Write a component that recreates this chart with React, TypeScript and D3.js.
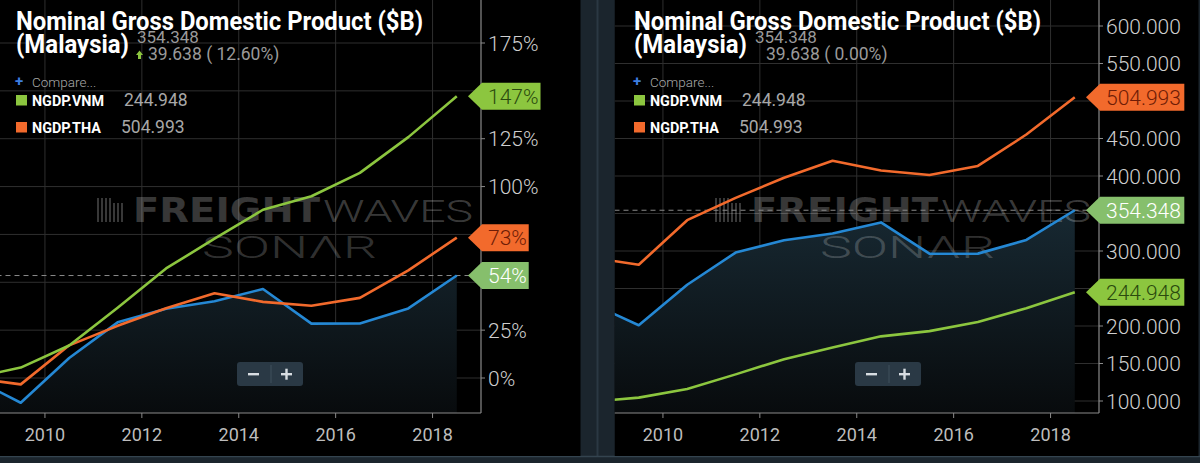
import React from "react";
import * as d3 from "d3";

// annual nominal GDP, $B (plotted at mid-year)
const years = [2008, 2009, 2010, 2011, 2012, 2013, 2014, 2015, 2016, 2017, 2018];
const ngdpMYS = [230.8, 201.0, 255.0, 297.9, 314.4, 323.3, 338.1, 296.4, 296.5, 314.71, 354.348];
const ngdpVNM = [99.1, 104.5, 115.9, 135.5, 155.8, 171.2, 186.2, 193.2, 205.3, 223.8, 244.948];
const ngdpTHA = [291.4, 281.7, 341.1, 370.8, 397.6, 420.3, 407.3, 401.3, 413.4, 455.3, 504.993];

const pctTicks = [0, 0.25, 0.5, 0.75, 1, 1.25, 1.5, 1.75];
const absTicks = [100, 150, 200, 250, 300, 350, 400, 450, 500, 550, 600];
const yearTicks = [2010, 2012, 2014, 2016, 2018];

const W = 1200;
const H = 463;
const GREEN = "#8cc63f";
const ORANGE = "#f26a2c";
const BLUE = "#2588d4";
const PALE = "#86bf6c";
const FONT = "Roboto, 'Noto Sans', sans-serif";

// rough text width for Roboto Light digits
const textW = (s: string, fs: number) =>
  s.split("").reduce((a, c) => a + (c === "." ? 0.263 : c === "%" ? 0.72 : 0.562) * fs, 0);

type PanelProps = { dx: number; mode: "pct" | "abs"; id: string };

const Panel: React.FC<PanelProps> = ({ dx, mode, id }) => {
  const x = d3.scaleLinear().domain([2009, 2019]).range([-3.5, 481]);
  const y =
    mode === "pct"
      ? d3.scaleLinear().domain([0, 1.75]).range([378, 43])
      : d3.scaleLinear().domain([100, 600]).range([401, 26]);
  const bottom = 413;
  const axisX = x(2019);
  const left = x(2009);

  const toVal = (arr: number[]) => arr.map((v) => (mode === "pct" ? v / arr[0] - 1 : v));
  const series = [
    { key: "MYS", vals: toVal(ngdpMYS), color: BLUE, tagFill: PALE, tagText: "#ffffff" },
    { key: "THA", vals: toVal(ngdpTHA), color: ORANGE, tagFill: ORANGE, tagText: "#6e1c06" },
    { key: "VNM", vals: toVal(ngdpVNM), color: GREEN, tagFill: GREEN, tagText: "#2a4a0e" },
  ];

  const xi = (i: number) => x(years[i] + 0.5);
  const line = d3.line<number>().x((_, i) => xi(i)).y((v) => y(v));
  const area = d3.area<number>().x((_, i) => xi(i)).y0(bottom).y1((v) => y(v));

  const ticks = mode === "pct" ? pctTicks : absTicks;
  const fmt = (v: number) => (mode === "pct" ? `${Math.round(v * 100)}%` : v.toFixed(3));

  const last = ngdpMYS.length - 1;
  const change = ngdpMYS[last] - ngdpMYS[last - 1];
  const changePct = mode === "pct" ? (change / ngdpMYS[last - 1]) * 100 : 0;
  const blueLastY = y(series[0].vals[last]);

  // tick labels sitting under a value tag are hidden, as in the app
  const tagYs = series.map((s) => y(s.vals[last]));
  const labelTicks = ticks.filter((t) => tagYs.every((ty) => Math.abs(ty - y(t)) > 16));

  return (
    <g transform={`translate(${dx},0)`}>
      <defs>
        <clipPath id={`panel-${id}`}>
          <rect x={-3.5} y={0} width={586.5} height={456} />
        </clipPath>
        <clipPath id={`plot-${id}`}>
          <rect x={left} y={0} width={axisX - left} height={bottom} />
        </clipPath>
        <linearGradient id={`fill-${id}`} gradientUnits="userSpaceOnUse" x1={0} y1={200} x2={0} y2={bottom}>
          <stop offset="0" stopColor="#182a34" />
          <stop offset="1" stopColor="#080b0d" />
        </linearGradient>
      </defs>
      <g clipPath={`url(#panel-${id})`}>
        <rect x={-3.5} y={0} width={584} height={456} fill="#000" />

        {/* grid */}
        {ticks.map((t) => (
          <line key={`h${t}`} x1={left} x2={axisX} y1={y(t)} y2={y(t)} stroke="#2f2f2f" strokeWidth={1} />
        ))}
        {yearTicks.map((t) => (
          <line key={`v${t}`} x1={x(t)} x2={x(t)} y1={0} y2={bottom} stroke="#2f2f2f" strokeWidth={1} />
        ))}

        <path d={area(series[0].vals) ?? ""} fill={`url(#fill-${id})`} clipPath={`url(#plot-${id})`} />

        {/* watermark */}
        <g fill="#ffffff" fillOpacity={0.22}>
          {[0, 4, 8, 12, 16, 20, 24].map((o, i) => (
            <rect key={o} x={97 + o} y={i < 4 ? 198 : 203} width={2} height={i < 4 ? 24 : 19} />
          ))}
          <text x={133} y={222} fontFamily="'DejaVu Sans', sans-serif" fontWeight={700} fontSize={33}
            textLength={187} lengthAdjust="spacingAndGlyphs">FREIGHT</text>
          <text x={323} y={222} fontFamily={FONT} fontWeight={300} fontSize={31} fillOpacity={0.24}
            textLength={150} lengthAdjust="spacingAndGlyphs">WAVES</text>
          <text x={202} y={258} fontFamily={FONT} fontWeight={300} fontSize={32} fillOpacity={0.2}
            textLength={175} lengthAdjust="spacingAndGlyphs">SONΛR</text>
        </g>

        {/* series */}
        <g clipPath={`url(#plot-${id})`}>
          <line x1={left} x2={axisX} y1={blueLastY} y2={blueLastY} stroke="#8a8a8a" strokeWidth={1} strokeDasharray="5,4" />
          {series.map((s) => (
            <path key={s.key} d={line(s.vals) ?? ""} fill="none" stroke={s.color} strokeWidth={2.6} strokeLinejoin="round" />
          ))}
        </g>

        {/* axes */}
        <line x1={axisX} x2={axisX} y1={0} y2={bottom} stroke="#8a8a8a" strokeWidth={1.2} />
        <line x1={left} x2={axisX} y1={bottom} y2={bottom} stroke="#8a8a8a" strokeWidth={1.2} />
        {ticks.map((t) => (
          <line key={`yt${t}`} x1={axisX} x2={axisX + 4} y1={y(t)} y2={y(t)} stroke="#8a8a8a" />
        ))}
        {labelTicks.map((t) => (
          <text key={`yl${t}`} x={axisX + 7} y={y(t)} dy="0.36em" fontFamily={FONT} fontWeight={300} fontSize={21} fill="#cfcfcf">
            {fmt(t)}
          </text>
        ))}
        {yearTicks.map((t) => (
          <g key={`xl${t}`}>
            <line x1={x(t)} x2={x(t)} y1={bottom} y2={bottom + 5} stroke="#8a8a8a" />
            <text x={x(t)} y={441} textAnchor="middle" fontFamily={FONT} fontSize={18} fill="#bdbdbd">
              {t}
            </text>
          </g>
        ))}

        {/* last-value tags */}
        {series.map((s) => {
          const v = s.vals[last];
          const cy = y(v);
          const label = fmt(v);
          const right = axisX + 7 + textW(label, 21) + 2;
          const h = 27;
          const d = `M${axisX - 13},${cy} L${axisX + 1},${cy - h / 2} L${right},${cy - h / 2} L${right},${cy + h / 2} L${axisX + 1},${cy + h / 2} Z`;
          return (
            <g key={`tag${s.key}`}>
              <path d={d} fill={s.tagFill} />
              <text x={axisX + 7} y={cy} dy="0.36em" fontFamily={FONT} fontWeight={300} fontSize={21} fill={s.tagText}>
                {label}
              </text>
            </g>
          );
        })}

        {/* header */}
        <g fontFamily={FONT}>
          <text x={16} y={29.5} fontWeight={700} fontSize={25} fill="#fff" textLength={407} lengthAdjust="spacingAndGlyphs">
            Nominal Gross Domestic Product ($B)
          </text>
          <text x={16} y={53} fontWeight={700} fontSize={25} fill="#fff" textLength={113} lengthAdjust="spacingAndGlyphs">
            (Malaysia)
          </text>
          <text x={137} y={42.5} fontSize={17} fill="#9a9a9a">
            {ngdpMYS[last].toFixed(3)}
          </text>
          {mode === "pct" && <path d="M139.5,50.5 L143,55 L141,55 L141,59 L138,59 L138,55 L136,55 Z" fill={GREEN} />}
          <text x={148} y={60} fontSize={17.5} fill="#9a9a9a">
            {`${change.toFixed(3)} ( ${changePct.toFixed(2)}%)`}
          </text>
          <text x={15} y={86} fontSize={15} fill="#3d7fe0" fontWeight={700}>+</text>
          <text x={32} y={87} fontSize={13.5} fill="#a8a8a8" fontWeight={300}>Compare...</text>
          <rect x={16} y={95} width={11} height={10.5} fill={GREEN} />
          <text x={32} y={106} fontSize={15.5} fontWeight={700} fill="#fff" textLength={72} lengthAdjust="spacingAndGlyphs">
            NGDP.VNM
          </text>
          <text x={124} y={106} fontSize={17.5} fill="#a8a8a8">{ngdpVNM[last].toFixed(3)}</text>
          <rect x={16} y={122} width={11} height={10.5} fill={ORANGE} />
          <text x={32} y={132.5} fontSize={15.5} fontWeight={700} fill="#fff" textLength={69} lengthAdjust="spacingAndGlyphs">
            NGDP.THA
          </text>
          <text x={121} y={132.5} fontSize={17.5} fill="#a8a8a8">{ngdpTHA[last].toFixed(3)}</text>
        </g>

        {/* zoom buttons */}
        <g>
          <rect x={237} y={362} width={66} height={24} rx={3} fill="#2a3945" />
          <line x1={271} x2={271} y1={365} y2={383} stroke="#3f505d" />
          <rect x={248} y={373} width={11} height={2.4} fill="#d8dde2" />
          <rect x={281} y={373} width={11} height={2.4} fill="#d8dde2" />
          <rect x={285.3} y={368.7} width={2.4} height={11} fill="#d8dde2" />
        </g>
      </g>
    </g>
  );
};

export default function App() {
  return (
    <svg width={W} height={H} style={{ position: "absolute", left: 0, top: 0, display: "block" }}>
      <rect x={0} y={0} width={W} height={H} fill="#1b252d" />
      <line x1={597.5} x2={597.5} y1={0} y2={456} stroke="#2b3843" strokeWidth={2} />
      <line x1={0} x2={W} y1={456.5} y2={456.5} stroke="#34444f" strokeWidth={1.5} />
      <Panel dx={0} mode="pct" id="l" />
      <Panel dx={618} mode="abs" id="r" />
    </svg>
  );
}
